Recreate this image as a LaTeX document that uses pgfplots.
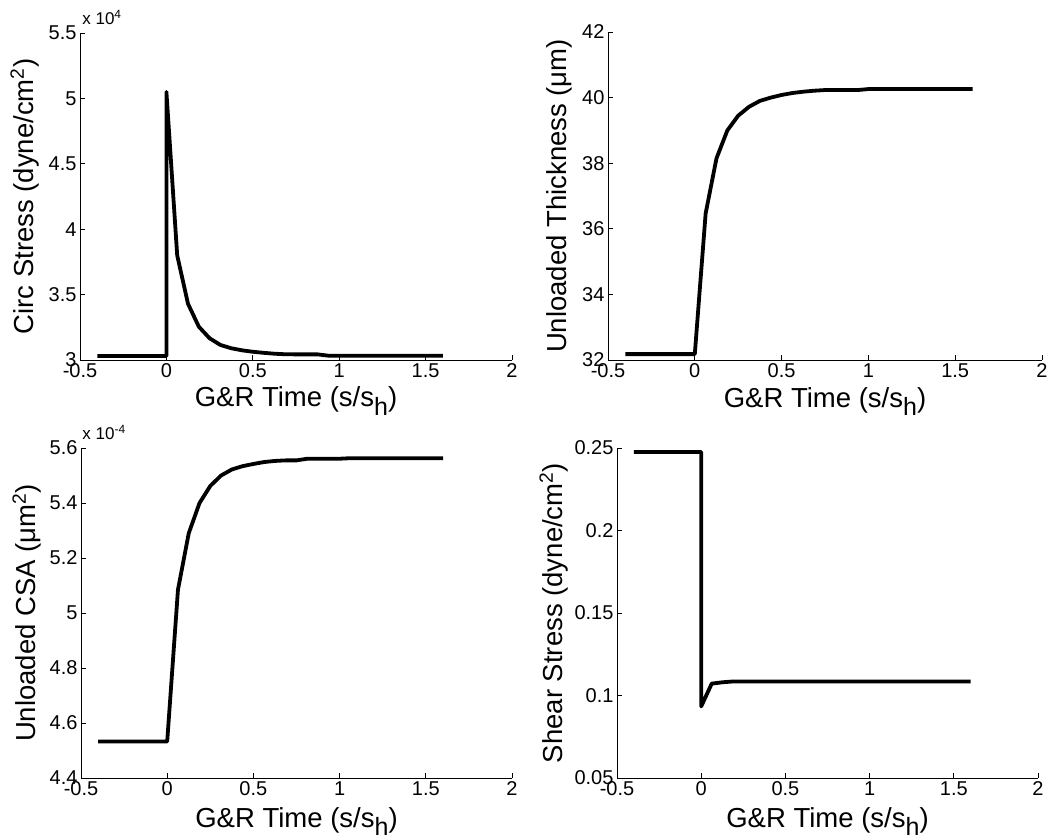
\documentclass[border=0pt]{standalone}
\usepackage{pgfplots}
\pgfplotsset{compat=1.18}
\usepackage{fontspec}
\setmainfont{Liberation Sans}
\pgfplotsset{
  mat/.style={
    scale only axis,
    axis x line*=bottom, axis y line*=left,
    tick align=inside,
    major tick length=5pt,
    axis line style={line width=0.8pt},
    tick style={line width=0.8pt, black},
    /pgf/number format/assume math mode=true,
    tick label style={font=\fontsize{20}{22}\selectfont},
    label style={font=\fontsize{27.5}{30}\selectfont},
    xmin=-0.5, xmax=2,
    xtick={-0.5,0,0.5,1,1.5,2},
    xticklabels={-0.5,0,0.5,1,1.5,2},
    xlabel={G\&R Time (s/s\raisebox{-0.3em}{\fontsize{25}{27}\selectfont h})},
    clip=false,
  },
  curve/.style={black, line width=3.8pt, no markers, line join=round, line cap=butt},
}
\begin{document}
\begin{tikzpicture}
\useasboundingbox (0pt,-838pt) rectangle (1061pt,0pt);

% top-left
\begin{axis}[mat, at={(80pt,-360pt)}, anchor=south west, width=432pt, height=327pt,
  ymin=3, ymax=5.5, ytick={3,3.5,4,4.5,5,5.5}, yticklabels={3,3.5,4,4.5,5,5.5},
  ylabel={Circ Stress (dyne/cm\textsuperscript{2})},
  xlabel style={at={(axis description cs:0.5,-0.1437)}, anchor=base},
  ylabel style={at={(axis description cs:-0.1088,0.5)}, anchor=base}]
\addplot[curve] coordinates {(-0.4,3.03) (0,3.03) (0,5.05) (0.0625,3.80) (0.125,3.43) (0.1875,3.255) (0.25,3.166) (0.3125,3.115) (0.375,3.09) (0.4375,3.074) (0.5,3.063) (0.5625,3.055) (0.625,3.048) (0.6875,3.044) (0.75,3.043) (0.875,3.043) (0.9375,3.033) (1.6,3.033)};
\node[anchor=base west, inner sep=0pt, font=\fontsize{17}{19}\selectfont] at (axis description cs:0.005,1.025) {x 10\textsuperscript{4}};
\end{axis}

% top-right
\begin{axis}[mat, at={(608pt,-360pt)}, anchor=south west, width=434pt, height=328pt,
  ymin=32, ymax=42, ytick={32,34,36,38,40,42}, yticklabels={32,34,36,38,40,42},
  ylabel={Unloaded Thickness (μm)},
  xlabel style={at={(axis description cs:0.5,-0.1433)}, anchor=base},
  ylabel style={at={(axis description cs:-0.0945,0.5)}, anchor=base}]
\addplot[curve] coordinates {(-0.4,32.18) (0,32.18) (0.0625,36.47) (0.125,38.15) (0.1875,39.0) (0.25,39.45) (0.3125,39.72) (0.375,39.9) (0.4375,40.0) (0.5,40.08) (0.5625,40.14) (0.625,40.18) (0.6875,40.21) (0.75,40.23) (0.9375,40.23) (1.0,40.26) (1.6,40.26)};
\end{axis}

% bottom-left
\begin{axis}[mat, at={(81pt,-778pt)}, anchor=south west, width=431pt, height=330pt,
  ymin=4.4, ymax=5.6, ytick={4.4,4.6,4.8,5,5.2,5.4,5.6}, yticklabels={4.4,4.6,4.8,5,5.2,5.4,5.6},
  ylabel={Unloaded CSA (μm\textsuperscript{2})},
  xlabel style={at={(axis description cs:0.5,-0.1485)}, anchor=base},
  ylabel style={at={(axis description cs:-0.1067,0.5)}, anchor=base}]
\addplot[curve] coordinates {(-0.4,4.533) (0,4.533) (0.0625,5.085) (0.125,5.29) (0.1875,5.40) (0.25,5.462) (0.3125,5.50) (0.375,5.522) (0.4375,5.534) (0.5,5.542) (0.5625,5.549) (0.625,5.553) (0.6875,5.555) (0.75,5.555) (0.8125,5.561) (1.0,5.561) (1.0625,5.563) (1.6,5.563)};
\node[anchor=base west, inner sep=0pt, font=\fontsize{17}{19}\selectfont] at (axis description cs:0.003,1.025) {x 10\textsuperscript{-4}};
\end{axis}

% bottom-right
\begin{axis}[mat, at={(617pt,-778pt)}, anchor=south west, width=421pt, height=330pt,
  ymin=0.05, ymax=0.25, ytick={0.05,0.1,0.15,0.2,0.25}, yticklabels={0.05,0.1,0.15,0.2,0.25},
  ylabel={Shear Stress (dyne/cm\textsuperscript{2})},
  xlabel style={at={(axis description cs:0.5,-0.1485)}, anchor=base},
  ylabel style={at={(axis description cs:-0.1306,0.5)}, anchor=base}]
\addplot[curve] coordinates {(-0.4,0.2476) (0,0.2476) (0,0.0934) (0.0625,0.1072) (0.125,0.1080) (0.1875,0.1085) (1.6,0.1085)};
\end{axis}
\end{tikzpicture}
\end{document}
